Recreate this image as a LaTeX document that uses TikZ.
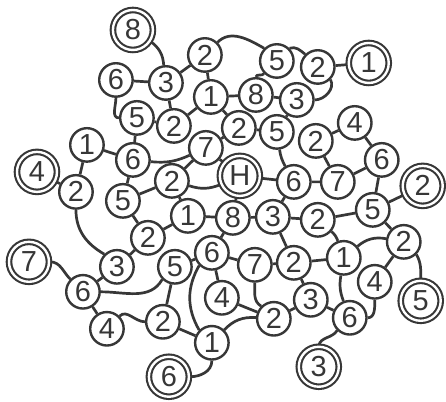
\documentclass[tikz,border=0pt]{standalone}
\usepackage{fontspec}
\usetikzlibrary{backgrounds}
\newfontfamily\numfont{Liberation Sans}
\definecolor{ink}{RGB}{55,55,55}
\tikzset{
  num/.style={circle, draw=ink, line width=2.4pt, fill=white, minimum size=33.5pt, inner sep=0pt, text=ink,
    font={\numfont\fontsize{29pt}{29pt}\selectfont}},
  dnum/.style={num, double=white, double distance=2.4pt, line width=2.1pt, minimum size=40pt},
  link/.style={draw=ink, line width=2.7pt}
}
\begin{document}
\begin{tikzpicture}[x=1pt,y=1pt]
% ---------- nodes ----------
\node[dnum] (n8D) at (133,-30) {8};
\node[num] (a6) at (116,-80) {6};
\node[num] (a3) at (166,-83) {3};
\node[num] (a2) at (205,-55) {2};
\node[num] (b5) at (277,-61) {5};
\node[num] (b2) at (318,-67) {2};
\node[dnum] (n1D) at (369,-63) {1};
\node[num] (a1) at (211,-97) {1};
\node[num] (b8) at (256,-95) {8};
\node[num] (b3) at (297,-100) {3};
\node[num] (a5) at (137,-118) {5};
\node[num] (c2) at (174,-126) {2};
\node[num] (c7) at (206,-148) {7};
\node[num] (d2) at (239,-128) {2};
\node[num] (c5) at (277,-132) {5};
\node[num] (e2) at (316,-141) {2};
\node[num] (a4) at (355,-123) {4};
\node[num] (e6) at (382,-160) {6};
\node[num] (c1) at (87,-145) {1};
\node[num] (c6) at (133,-160) {6};
\node[dnum] (n4D) at (37,-172) {4};
\node[num] (f2) at (76,-192) {2};
\node[num] (f5) at (123,-201) {5};
\node[num] (g2) at (172,-181) {2};
\node[dnum] (H) at (240,-176) {H};
\node[num] (d6) at (294,-182) {6};
\node[num] (d7) at (338,-182) {7};
\node[dnum] (n2D) at (423,-186) {2};
\node[num] (g1) at (188,-216) {1};
\node[num] (g8) at (233,-218) {8};
\node[num] (g3) at (273,-217) {3};
\node[num] (h2) at (318,-220) {2};
\node[num] (h5) at (373,-210) {5};
\node[num] (i2) at (148,-238) {2};
\node[num] (j2) at (404,-242) {2};
\node[num] (k6) at (212,-253) {6};
\node[num] (k7) at (255,-265) {7};
\node[num] (k2) at (294,-263) {2};
\node[num] (k1) at (344,-258) {1};
\node[num] (l3) at (117,-267) {3};
\node[num] (l5) at (175,-267) {5};
\node[dnum] (n7D) at (29,-262) {7};
\node[num] (m6) at (83,-292) {6};
\node[num] (m4) at (222,-298) {4};
\node[num] (m4b) at (375,-282) {4};
\node[num] (n3) at (311,-300) {3};
\node[num] (n2) at (274,-319) {2};
\node[num] (o2) at (163,-322) {2};
\node[num] (o4) at (107,-329) {4};
\node[dnum] (n5D) at (421,-301) {5};
\node[num] (o6) at (350,-318) {6};
\node[num] (p1) at (212,-343) {1};
\node[dnum] (n6D) at (169,-377) {6};
\node[dnum] (n3D) at (319,-367) {3};
% ---------- connectors ----------
\begin{scope}[on background layer]
\fill[white] (0,0) rectangle (446,-402);
\useasboundingbox (0,0) rectangle (446,-402);
\path[link]
  (n8D) to[bend left=25] (a3)
  (a6) -- (a3)
  (a3) -- (a2)
  (a6.south) to[out=-90,in=180] (a5.west)
  (a5) -- (c2)
  (a3) -- (c2)
  (c2) -- (a1)
  (a2) -- (a1)
  (a2.north east) to[out=45,in=150] (b5.north west)
  (b5.north east) to[out=20,in=140] (b2.north west)
  (b2) -- (n1D)
  (b5.south west) to[out=-130,in=80] (b8.north)
  (b8) -- (b3)
  (b2.south east) to[out=-60,in=0] (b3.east)
  (a1) -- (b8)
  (a5) -- (c6)
  (c1) -- (c6)
  (c1) -- (f2)
  (c6) -- (f5)
  (n4D) -- (f2)
  (f2.south) to[out=-90,in=150] (l3.north west)
  (f5) -- (g2)
  (f5) -- (i2)
  (i2) -- (g1)
  (g2) -- (g1)
  (g2) to[bend right=20] (H)
  (g2) -- (c7)
  (c6) to[bend right=15] (c7)
  (g1) -- (g8)
  (g8) -- (g3)
  (H) -- (g8)
  (H) -- (d6)
  (c5) to[bend right=10] (d6)
  (e2) -- (d7)
  (d6) -- (d7)
  (d7) -- (e6)
  (a4) -- (e6)
  (e6) -- (h5)
  (h5) -- (n2D)
  (h2) -- (h5)
  (g3) -- (h2)
  (d6) -- (g3)
  (h2) to[bend left=15] (k1)
  (h5) -- (j2)
  (k1) to[bend left=25] (j2)
  (j2) -- (m4b)
  (j2.south east) to[out=-60,in=90] (n5D.north)
  (k1) to[bend right=15] (o6)
  (m4b.south) to[out=-90,in=0] (o6.east)
  (n3) -- (o6)
  (o6.south west) to[out=-120,in=80] (n3D.north)
  (k2) -- (n3)
  (k7) -- (k2)
  (k7.south) to[out=-90,in=150] (n2.north west)
  (n2) -- (n3)
  (m4) -- (n2)
  (n2) to[bend right=25] (p1)
  (k6) -- (m4)
  (k6) -- (k7)
  (k6) -- (g8)
  (l5) -- (k6)
  (k6.south west) to[out=-120,in=120] (p1.north west)
  (n7D.east) to[out=0,in=135] (m6.north west)
  (m6) -- (l3)
  (l3) -- (i2)
  (m6.east) to[out=0,in=-120] (l5.south west)
  (m6) -- (o4)
  (o4.north east) to[out=45,in=180] (o2.west)
  (o2) -- (l5)
  (o2) -- (p1)
  (p1.south) to[out=-90,in=0] (n6D.east)
  (c7) -- (d2)
  (d2) -- (c5)
  (a1) -- (d2)
  (H) -- (c7)
  (c5) -- (b3)
  (e2) -- (a4)
  (g3) -- (k2)
  (k2) -- (k1);
\end{scope}
\end{tikzpicture}
\end{document}
